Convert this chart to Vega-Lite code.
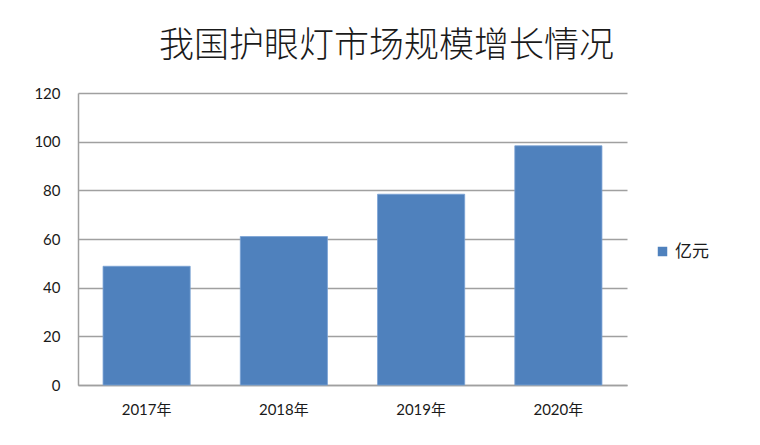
{
  "$schema": "https://vega.github.io/schema/vega-lite/v6.json",
  "width": 549,
  "height": 292,
  "autosize": "none",
  "padding": {"left": 78, "top": 93, "right": 133, "bottom": 60},
  "background": "white",
  "title": {
    "text": "我国护眼灯市场规模增长情况",
    "font": "Noto Sans CJK SC",
    "fontSize": 35,
    "fontWeight": 300,
    "color": "#1a1a1a",
    "anchor": "middle",
    "dx": 34,
    "offset": 22
  },
  "data": {
    "values": [
      {"year": "2017年", "value": 48.8, "series": "亿元"},
      {"year": "2018年", "value": 61.0, "series": "亿元"},
      {"year": "2019年", "value": 78.4, "series": "亿元"},
      {"year": "2020年", "value": 98.3, "series": "亿元"}
    ]
  },
  "mark": {"type": "bar", "stroke": "#7aa2d4", "strokeWidth": 0.8},
  "encoding": {
    "x": {
      "field": "year",
      "type": "nominal",
      "sort": null,
      "scale": {"paddingInner": 0.365, "paddingOuter": 0.1825},
      "axis": {
        "title": null,
        "labelAngle": 0,
        "labelFont": "Lato, Noto Sans CJK SC",
        "labelFontSize": 15,
        "labelColor": "#1a1a1a",
        "labelPadding": 17,
        "ticks": false,
        "domainColor": "#a0a0a0",
        "domainWidth": 1.5
      }
    },
    "y": {
      "field": "value",
      "type": "quantitative",
      "scale": {"domain": [0, 120]},
      "axis": {
        "title": null,
        "values": [0, 20, 40, 60, 80, 100, 120],
        "labelFont": "Lato",
        "labelFontSize": 15,
        "labelColor": "#1a1a1a",
        "labelPadding": 18,
        "ticks": false,
        "domainColor": "#a0a0a0",
        "domainWidth": 1.5,
        "gridColor": "#a0a0a0",
        "gridWidth": 1.5
      }
    },
    "color": {
      "field": "series",
      "type": "nominal",
      "scale": {"range": ["#4f81bd"]},
      "legend": {
        "title": null,
        "orient": "none",
        "legendX": 576,
        "legendY": 150,
        "symbolType": "square",
        "symbolSize": 90,
        "symbolStrokeWidth": 0,
        "labelFont": "Noto Sans CJK SC",
        "labelFontSize": 17,
        "labelColor": "#1a1a1a"
      }
    }
  },
  "config": {
    "view": {"stroke": null}
  }
}
